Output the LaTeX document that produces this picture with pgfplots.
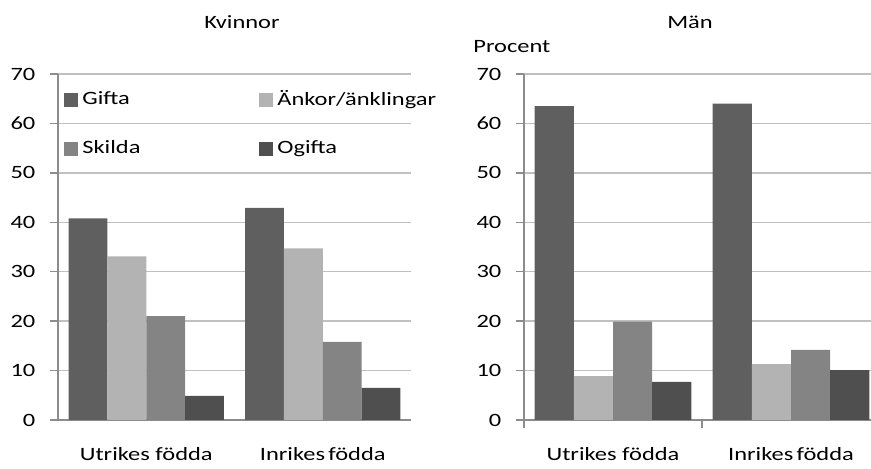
\documentclass[border=0pt]{standalone}
\usepackage{fontspec}
\setmainfont{Carlito}[FakeStretch=1.3]
\usepackage{pgfplots}
\pgfplotsset{compat=1.18}

\definecolor{cGifta}{HTML}{5F5F5F}
\definecolor{cAnkor}{HTML}{B3B3B3}
\definecolor{cSkilda}{HTML}{848484}
\definecolor{cOgifta}{HTML}{4F4F4F}
\definecolor{gridgray}{HTML}{C0C0C0}
\definecolor{axisgray}{HTML}{8C8C8C}

\pgfplotsset{
  panel/.style={
    scale only axis, width=176.5pt, height=173pt,
    ymin=0, ymax=70, ytick={0,10,...,70},
    xmin=-0.5, xmax=1.5, xtick=\empty,
    extra x ticks={0,1},
    extra x tick labels={Utrikes födda, Inrikes\kern-0.12em{} födda},
    extra x tick style={major tick length=0pt, xticklabel style={yshift=-10.5pt}},
    axis lines=left,
    axis line style={-, draw=axisgray, line width=0.75pt},
    ymajorgrids, grid style={draw=gridgray, line width=0.75pt},
    tick align=outside, major tick length=4pt,
    tick style={draw=axisgray, line width=0.75pt},
    /pgf/number format/assume math mode=true,
    yticklabel style={xshift=-4pt},
    ybar, bar width=0.22,
    legend image code/.code={\fill[##1] (0pt,-3.5pt) rectangle (7pt,3.5pt);},
  },
}

\begin{document}
\fontsize{9.4pt}{11pt}\selectfont
\begin{tikzpicture}[font=\fontsize{9.4pt}{11pt}\selectfont]
% Kvinnor
\begin{axis}[panel, at={(29pt,24.5pt)}, anchor=south west,
    legend style={draw=none, fill=none, at={(0.0,0.976)}, anchor=north west,
      legend columns=2, /tikz/every even column/.append style={column sep=0pt},
      row sep=12pt, font=\fontsize{9.4pt}{11pt}\selectfont},
    legend cell align=left]
\addplot[fill=cGifta, draw=none, bar shift=-0.33] coordinates {(0,40.8) (1,42.9)};
\addplot[fill=cAnkor, draw=none, bar shift=-0.11] coordinates {(0,33.1) (1,34.7)};
\addplot[fill=cSkilda, draw=none, bar shift=0.11] coordinates {(0,21.0) (1,15.8)};
\addplot[fill=cOgifta, draw=none, bar shift=0.33] coordinates {(0,4.9) (1,6.5)};
\legend{\makebox[86.5pt][l]{Gifta}, Änkor/änklingar, \makebox[86.5pt][l]{Skilda}, Ogifta}
\end{axis}
% Män
\begin{axis}[panel, width=178pt, at={(262pt,24.5pt)}, anchor=south west,
    xtick={-0.5,0.5}, xticklabels={}]
\addplot[fill=cGifta, draw=none, bar shift=-0.33] coordinates {(0,63.5) (1,64.0)};
\addplot[fill=cAnkor, draw=none, bar shift=-0.11] coordinates {(0,8.9) (1,11.3)};
\addplot[fill=cSkilda, draw=none, bar shift=0.11] coordinates {(0,19.9) (1,14.2)};
\addplot[fill=cOgifta, draw=none, bar shift=0.33] coordinates {(0,7.7) (1,10.1)};
\end{axis}
\node at (121pt,223.5pt) {Kvinnor};
\node at (345pt,223.5pt) {Män};
\node[anchor=west, inner sep=0pt] at (236.5pt,211pt) {Procent};
\pgfresetboundingbox
\path[use as bounding box] (0,0) rectangle (435.5pt,234.5pt);
\end{tikzpicture}
\end{document}
